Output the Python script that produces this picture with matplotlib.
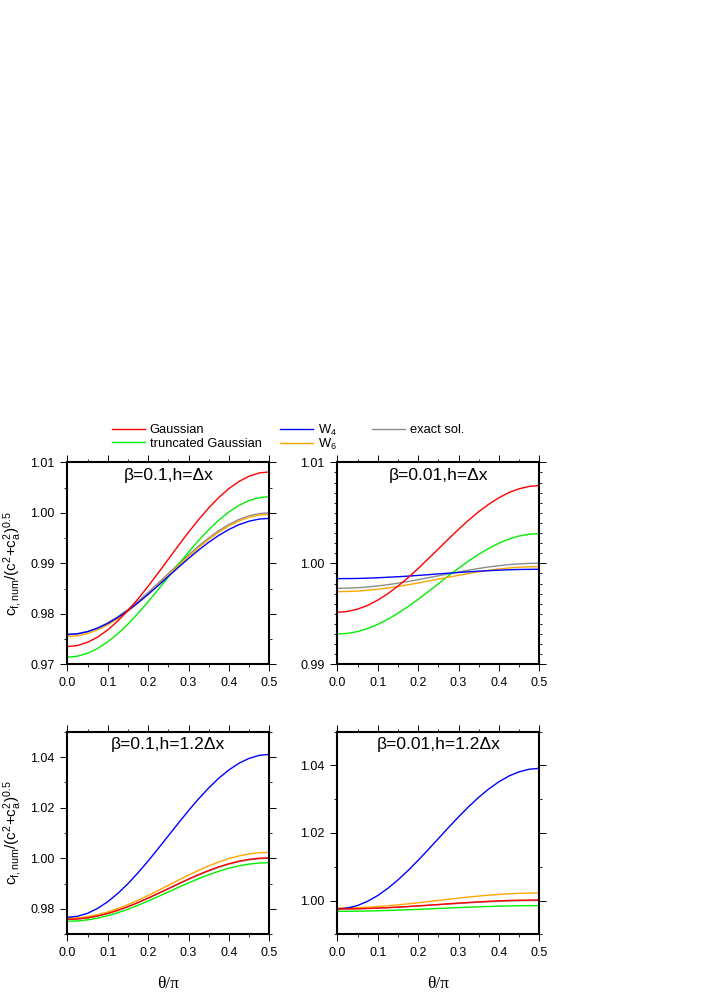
import matplotlib
matplotlib.use("Agg")
import matplotlib.pyplot as plt
from matplotlib.ticker import MultipleLocator, FormatStrFormatter

plt.rcParams['font.family'] = ['Liberation Sans', 'DejaVu Sans']
plt.rcParams['mathtext.fontset'] = 'custom'
plt.rcParams['mathtext.rm'] = 'Liberation Sans'
plt.rcParams['mathtext.it'] = 'Liberation Sans:italic'
plt.rcParams['mathtext.bf'] = 'Liberation Sans:bold'

# ---------------- data ----------------
theta = [0.0, 0.025, 0.05, 0.075, 0.1, 0.125, 0.15, 0.175, 0.2, 0.225, 0.25,
         0.275, 0.3, 0.325, 0.35, 0.375, 0.4, 0.425, 0.45, 0.475, 0.5]

series_names = ["Gaussian", "truncated Gaussian", r"W$_\mathrm{4}$", r"W$_\mathrm{6}$", "exact sol."]
series_colors = ["#ff0000", "#00f000", "#0000ff", "#ffa500", "#8c8c8c"]

# panel 1: beta=0.1, h=dx
p1_gauss = [0.97350, 0.97371, 0.97435, 0.97539, 0.97680, 0.97857, 0.98063, 0.98295, 0.98545, 0.98809, 0.99080,
            0.99351, 0.99615, 0.99865, 1.00097, 1.00303, 1.00480, 1.00621, 1.00725, 1.00789, 1.00810]
p1_trunc = [0.97140, 0.97160, 0.97218, 0.97313, 0.97444, 0.97606, 0.97795, 0.98008, 0.98239, 0.98481, 0.98730,
            0.98979, 0.99221, 0.99452, 0.99665, 0.99854, 1.00016, 1.00147, 1.00242, 1.00300, 1.00320]
p1_w4 = [0.97590, 0.97604, 0.97646, 0.97715, 0.97810, 0.97927, 0.98064, 0.98218, 0.98385, 0.98560, 0.98740,
         0.98920, 0.99095, 0.99262, 0.99416, 0.99553, 0.99670, 0.99765, 0.99834, 0.99876, 0.99890]
p1_w6 = [0.97550, 0.97565, 0.97609, 0.97682, 0.97781, 0.97904, 0.98049, 0.98211, 0.98386, 0.98571, 0.98760,
         0.98949, 0.99134, 0.99309, 0.99471, 0.99616, 0.99739, 0.99838, 0.99911, 0.99955, 0.99970]
p1_exact = [0.97590, 0.97605, 0.97649, 0.97721, 0.97820, 0.97943, 0.98087, 0.98248, 0.98423, 0.98607, 0.98795,
            0.98984, 0.99167, 0.99342, 0.99503, 0.99647, 0.99770, 0.99869, 0.99941, 0.99985, 1.00000]

# panel 2: beta=0.01, h=dx
p2_gauss = [0.99515, 0.99523, 0.99546, 0.99583, 0.99635, 0.99699, 0.99774, 0.99857, 0.99948, 1.00044, 1.00142,
            1.00240, 1.00336, 1.00427, 1.00511, 1.00585, 1.00649, 1.00701, 1.00738, 1.00761, 1.00769]
p2_trunc = [0.99300, 0.99306, 0.99324, 0.99354, 0.99395, 0.99446, 0.99505, 0.99571, 0.99643, 0.99719, 0.99797,
            0.99875, 0.99951, 1.00023, 1.00089, 1.00148, 1.00199, 1.00240, 1.00270, 1.00288, 1.00294]
p2_w4 = [0.99848, 0.99849, 0.99850, 0.99853, 0.99857, 0.99862, 0.99867, 0.99873, 0.99880, 0.99887, 0.99895,
         0.99902, 0.99909, 0.99916, 0.99922, 0.99927, 0.99932, 0.99936, 0.99939, 0.99940, 0.99941]
p2_w6 = [0.99719, 0.99721, 0.99725, 0.99733, 0.99743, 0.99755, 0.99770, 0.99787, 0.99805, 0.99824, 0.99843,
         0.99862, 0.99881, 0.99899, 0.99916, 0.99931, 0.99943, 0.99954, 0.99961, 0.99966, 0.99967]
p2_exact = [0.99752, 0.99754, 0.99758, 0.99766, 0.99776, 0.99788, 0.99803, 0.99820, 0.99838, 0.99857, 0.99876,
            0.99895, 0.99914, 0.99932, 0.99949, 0.99964, 0.99976, 0.99987, 0.99994, 0.99999, 1.00000]

# panel 3: beta=0.1, h=1.2dx
p3_gauss = [0.97592, 0.97607, 0.97650, 0.97724, 0.97822, 0.97948, 0.98091, 0.98255, 0.98430, 0.98616, 0.98805,
            0.98996, 0.99180, 0.99357, 0.99519, 0.99664, 0.99788, 0.99888, 0.99961, 1.00005, 1.00020]
p3_trunc = [0.97513, 0.97527, 0.97570, 0.97639, 0.97734, 0.97852, 0.97990, 0.98145, 0.98313, 0.98490, 0.98671,
            0.98852, 0.99029, 0.99197, 0.99352, 0.99490, 0.99608, 0.99703, 0.99772, 0.99815, 0.99829]
p3_w4 = [0.97671, 0.97711, 0.97828, 0.98022, 0.98285, 0.98613, 0.98997, 0.99428, 0.99894, 1.00385, 1.00888,
         1.01391, 1.01882, 1.02349, 1.02779, 1.03163, 1.03491, 1.03754, 1.03947, 1.04065, 1.04105]
p3_w6 = [0.97632, 0.97648, 0.97696, 0.97774, 0.97881, 0.98014, 0.98169, 0.98343, 0.98532, 0.98731, 0.98935,
         0.99138, 0.99337, 0.99526, 0.99700, 0.99856, 0.99988, 1.00095, 1.00173, 1.00221, 1.00237]
p3_exact = [0.97590, 0.97605, 0.97649, 0.97721, 0.97820, 0.97943, 0.98087, 0.98248, 0.98423, 0.98607, 0.98795,
            0.98984, 0.99167, 0.99342, 0.99503, 0.99647, 0.99770, 0.99869, 0.99941, 0.99985, 1.00000]

# panel 4: beta=0.01, h=1.2dx
p4_gauss = [0.99750, 0.99752, 0.99757, 0.99765, 0.99775, 0.99789, 0.99805, 0.99823, 0.99842, 0.99862, 0.99883,
            0.99904, 0.99924, 0.99943, 0.99961, 0.99977, 0.99991, 1.00002, 1.00010, 1.00014, 1.00016]
p4_trunc = [0.99681, 0.99682, 0.99685, 0.99690, 0.99697, 0.99706, 0.99716, 0.99727, 0.99739, 0.99752, 0.99765,
            0.99778, 0.99791, 0.99803, 0.99814, 0.99824, 0.99833, 0.99840, 0.99845, 0.99848, 0.99849]
p4_w4 = [0.99750, 0.99776, 0.99852, 0.99977, 1.00148, 1.00360, 1.00608, 1.00887, 1.01189, 1.01507, 1.01833,
         1.02158, 1.02476, 1.02778, 1.03057, 1.03305, 1.03517, 1.03688, 1.03813, 1.03889, 1.03915]
p4_w6 = [0.99780, 0.99783, 0.99791, 0.99804, 0.99822, 0.99845, 0.99872, 0.99901, 0.99933, 0.99967, 1.00002,
         1.00037, 1.00071, 1.00103, 1.00133, 1.00159, 1.00182, 1.00200, 1.00213, 1.00221, 1.00224]
p4_exact = [0.99752, 0.99754, 0.99758, 0.99766, 0.99776, 0.99788, 0.99803, 0.99820, 0.99838, 0.99857, 0.99876,
            0.99895, 0.99914, 0.99932, 0.99949, 0.99964, 0.99976, 0.99987, 0.99994, 0.99999, 1.00000]

panel_titles = ["β=0.1,h=Δx", "β=0.01,h=Δx", "β=0.1,h=1.2Δx", "β=0.01,h=1.2Δx"]
panel_ylims = [(0.97, 1.01), (0.99, 1.01), (0.97, 1.05), (0.99, 1.05)]
panel_ymajor = [0.01, 0.01, 0.02, 0.02]
panel_yminor = [0.005, 0.001, 0.01, 0.01]

panel_data = [
    [p1_gauss, p1_trunc, p1_w4, p1_w6, p1_exact],
    [p2_gauss, p2_trunc, p2_w4, p2_w6, p2_exact],
    [p3_gauss, p3_trunc, p3_w4, p3_w6, p3_exact],
    [p4_gauss, p4_trunc, p4_w4, p4_w6, p4_exact],
]
draw_order = [4, 1, 3, 2, 0]

W, H = 708, 1002
fig = plt.figure(figsize=(W / 100, H / 100), dpi=100)

ax_px = [  # left, top, right, bottom in pixels
    (67.3, 462.3, 269.3, 664.3),
    (337.3, 462.3, 539.3, 664.3),
    (67.3, 731.7, 269.3, 934.3),
    (337.3, 731.7, 539.3, 934.3),
]

ylabel = r"c$_\mathrm{f,num}$/(c$^\mathrm{2}$+c$_\mathrm{a}^\mathrm{2}$)$^\mathrm{0.5}$"

handles = {}
for i, (l, t, r, b) in enumerate(ax_px):
    ax = fig.add_axes([l / W, 1 - b / H, (r - l) / W, (b - t) / H])
    for k in draw_order:
        ln, = ax.plot(theta, panel_data[i][k], color=series_colors[k], lw=1.0,
                      label=series_names[k])
        if i == 0:
            handles[k] = ln
    ax.set_xlim(0.0, 0.5)
    ax.set_ylim(*panel_ylims[i])
    ax.xaxis.set_major_locator(MultipleLocator(0.1))
    ax.xaxis.set_minor_locator(MultipleLocator(0.05))
    ax.yaxis.set_major_locator(MultipleLocator(panel_ymajor[i]))
    ax.yaxis.set_minor_locator(MultipleLocator(panel_yminor[i]))
    ax.xaxis.set_major_formatter(FormatStrFormatter('%.1f'))
    ax.yaxis.set_major_formatter(FormatStrFormatter('%.2f'))
    ax.tick_params(which='both', direction='out', top=True, right=True,
                   labelsize=9, colors='black')
    ax.tick_params(which='major', length=4.8, width=0.7, pad=4.5)
    ax.tick_params(which='minor', length=2.4, width=0.6)
    for s in ax.spines.values():
        s.set_linewidth(1.5)
    ax.text(0.5, 1 - 13 / 202, panel_titles[i], transform=ax.transAxes,
            ha='center', va='center', fontsize=12.6)
    if i in (0, 2):
        ax.set_ylabel(ylabel, fontsize=11, va='center')
        ax.yaxis.set_label_coords(-0.27, 0.5)
    if i in (2, 3):
        ax.set_xlabel("θ/π", fontsize=12.5, family=['Liberation Serif', 'DejaVu Serif'])
        ax.xaxis.set_label_coords(0.5, -0.205)

# legend entries placed individually
leg_pos = {0: (111.7, 430), 1: (111.7, 444), 2: (280.0, 430), 3: (280.0, 444), 4: (371.7, 430)}
for k, (x, y) in leg_pos.items():
    fig.legend(handles=[handles[k]], labels=[series_names[k]], loc='center left',
               bbox_to_anchor=(x / W, 1 - y / H), frameon=False, fontsize=9.3,
               handlelength=2.56, handletextpad=0.38, borderpad=0, borderaxespad=0)

fig.savefig("out.png", dpi=100)
